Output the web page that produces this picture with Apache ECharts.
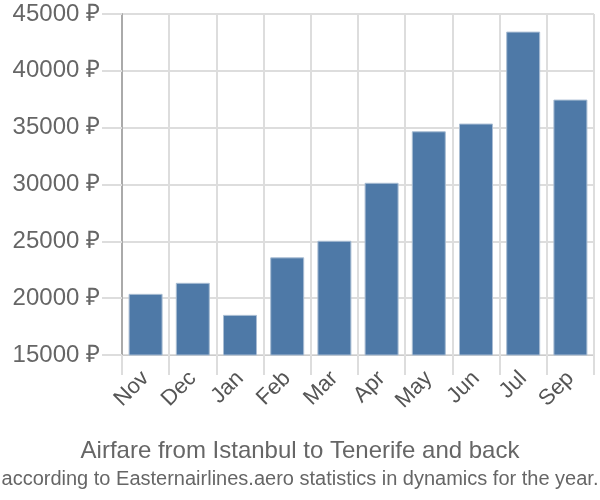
<!DOCTYPE html>
<html>
<head>
<meta charset="utf-8">
<script src="https://cdn.jsdelivr.net/npm/echarts@6/dist/echarts.min.js"></script>
<style>html,body{margin:0;padding:0;background:#fff}#c{width:600px;height:500px}</style>
</head>
<body>
<div id="c"></div>
<script>
const categories = ["Nov","Dec","Jan","Feb","Mar","Apr","May","Jun","Jul","Sep"];
const prices = [20380, 21350, 18530, 23590, 25050, 30150, 34680, 35360, 43450, 37470];
const yTicks = [15000, 20000, 25000, 30000, 35000, 40000, 45000];
const titleText = "Airfare from Istanbul to Tenerife and back";
const subtitleText = "according to Easternairlines.aero statistics in dynamics for the year.";

const chart = echarts.init(document.getElementById('c'), null, {renderer:'canvas'});
const font = "Liberation Sans";
chart.setOption({
  animation:false,
  title:{
    text:titleText, subtext:subtitleText, left:'center', top:434,
    textStyle:{fontFamily:font,fontSize:24,fontWeight:'normal',color:'#666'},
    subtextStyle:{fontFamily:font,fontSize:20,color:'#666'},
    itemGap:6
  },
  grid:{left:122,right:6,top:14,bottom:145,containLabel:false},
  xAxis:{
    type:'category', data:categories,
    axisLine:{show:true,lineStyle:{color:'#ccc',width:1}},
    axisTick:{show:true,length:20,alignWithLabel:false,lineStyle:{color:'#ddd',width:2}},
    splitLine:{show:true,lineStyle:{color:'#ddd',width:2}},
    axisLabel:{rotate:45,fontFamily:font,fontSize:22,color:'#555',margin:20,interval:0}
  },
  yAxis:{
    type:'value', min:yTicks[0], max:yTicks[yTicks.length-1], interval:5000,
    axisLine:{show:true,lineStyle:{color:'#aaa',width:2}},
    axisTick:{show:true,length:20,lineStyle:{color:'#ddd',width:2}},
    splitLine:{show:true,lineStyle:{color:'#ddd',width:2}},
    axisLabel:{fontFamily:font,fontSize:24,color:'#666',margin:22,formatter:v=>v+' ₽'}
  },
  series:[{
    type:'bar', data:prices, barCategoryGap:'28%',
    itemStyle:{color:'#4e79a7',borderColor:'#a9bdd3',borderWidth:1}
  }]
});
</script>
</body>
</html>
